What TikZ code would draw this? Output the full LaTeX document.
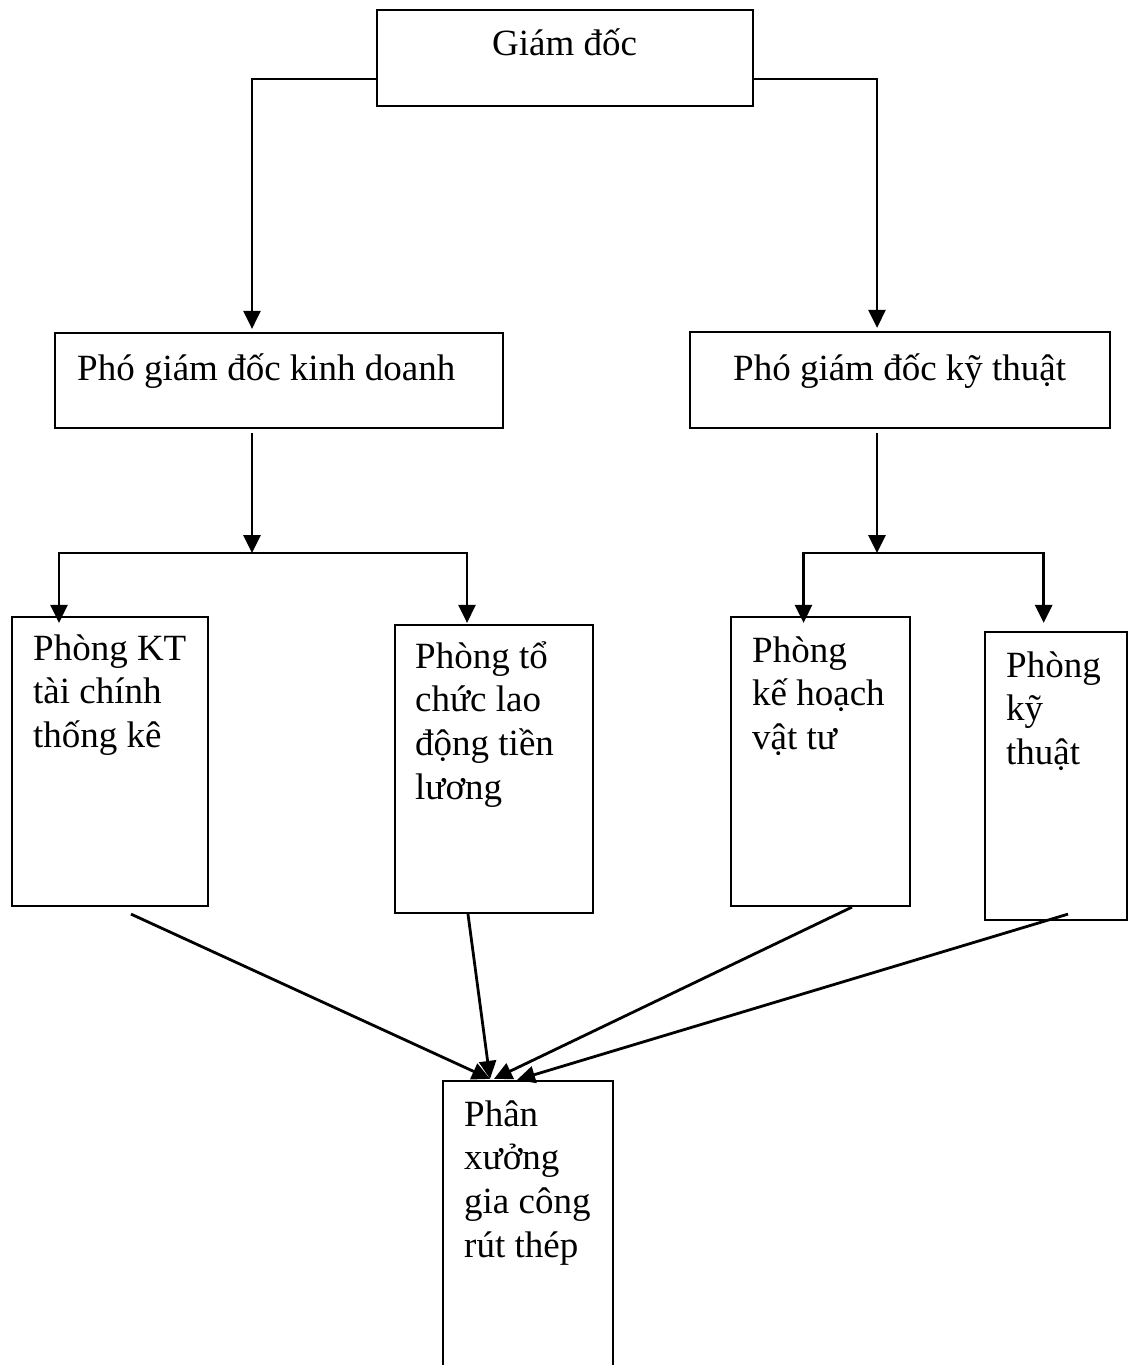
\documentclass[tikz,border=0pt]{standalone}
\usepackage{fontspec}
\setmainfont{Liberation Serif}
\usetikzlibrary{arrows.meta}
\begin{document}
\begin{tikzpicture}[x=1pt,y=-1pt,
  box/.style={draw, line width=2.2pt, rectangle, inner sep=0pt},
  lbl/.style={inner sep=0pt, font=\fontsize{37pt}{43.7pt}\selectfont},
  para/.style={lbl, anchor=north west, align=left},
  conn/.style={line width=2.8pt},
  arr/.style={conn, -{Triangle[length=18pt,width=17pt]}}]
\useasboundingbox (0,0) rectangle (1128,1365);
\fill[white] (0,0) rectangle (1128,1365);

% boxes
\node[box, minimum width=376pt, minimum height=96pt] (gd) at (565,58) {};
\node[box, minimum width=448pt, minimum height=95pt] (pk) at (279,380.5) {};
\node[box, minimum width=420pt, minimum height=96pt] (pt) at (900,380) {};
\node[box, minimum width=196pt, minimum height=289pt] (p1) at (110,761.5) {};
\node[box, minimum width=198pt, minimum height=288pt] (p2) at (494,769) {};
\node[box, minimum width=179pt, minimum height=289pt] (p3) at (820.5,761.5) {};
\node[box, minimum width=142pt, minimum height=288pt] (p4) at (1056,776) {};
\node[box, minimum width=170pt, minimum height=289pt] (px) at (528,1225.5) {};

% labels
\node[lbl, anchor=base west] (tgd) at (492,55) {Giám đốc};
\node[lbl, anchor=base west] (tpk) at (77,380) {Phó giám đốc kinh doanh};
\node[lbl, anchor=base west] (tpt) at (733,380) {Phó giám đốc kỹ thuật};
\node[para] (t1) at (33,620) {\rule{0pt}{40pt}Phòng KT\\tài chính\\thống kê};
\node[para] (t2) at (415,628) {\rule{0pt}{40pt}Phòng tổ\\chức lao\\động tiền\\lương};
\node[para] (t3) at (752,622) {\rule{0pt}{40pt}Phòng\\kế hoạch\\vật tư};
\node[para] (t4) at (1006,637) {\rule{0pt}{40pt}Phòng\\kỹ\\thuật};
\node[para] (t5) at (464,1086) {\rule{0pt}{40pt}Phân\\xưởng\\gia công\\rút thép};

% branch points
\coordinate (jl) at (252,553);
\coordinate (jr) at (877,553);

% director to deputies
\draw[arr] ([yshift=-21pt]gd.west) -| ([xshift=-27pt,yshift=3pt]pk.north);
\draw[arr] ([yshift=-21pt]gd.east) -| ([xshift=-23pt,yshift=3pt]pt.north);

% deputies to departments
\draw[arr] ([xshift=-27pt,yshift=-4pt]pk.south) -- (jl);
\draw[arr] (jl) -| ([xshift=-51pt,yshift=-7pt]p1.north);
\draw[arr] (jl) -| ([xshift=-27pt,yshift=1pt]p2.north);
\draw[arr] ([xshift=-23pt,yshift=-4pt]pt.south) -- (jr);
\draw[arr] (jr) -| ([xshift=-17pt,yshift=-7pt]p3.north);
\draw[arr] (jr) -| ([xshift=-12.3pt,yshift=8pt]p4.north);

% departments to workshop
\draw[arr] ([xshift=21pt,yshift=-7pt]p1.south) -- ([xshift=-38pt,yshift=1pt]px.north);
\draw[arr] ([xshift=-26pt]p2.south) -- ([xshift=-38pt,yshift=1pt]px.north);
\draw[arr] ([xshift=31.5pt]p3.south) -- ([xshift=-34pt,yshift=1pt]px.north);
\draw[arr] ([xshift=12pt,yshift=7pt]p4.south) -- ([xshift=-11pt]px.north);
\end{tikzpicture}
\end{document}
